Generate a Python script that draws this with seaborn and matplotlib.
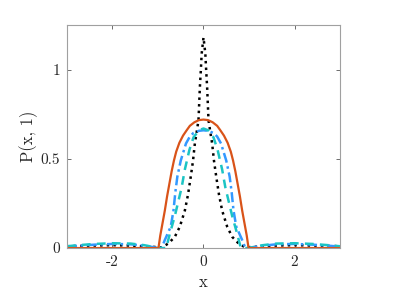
import seaborn as sns
import matplotlib.pyplot as plt
import pandas as pd
import numpy as np

# values, P(x, 1) for four cases
x_orange = [-3.0, -2.0, -1.2, -0.99, -0.95, -0.9, -0.85, -0.8, -0.75, -0.7, -0.65, -0.6, -0.53, -0.45, -0.37, -0.3, -0.2, -0.1, 0.0,
            0.1, 0.2, 0.3, 0.37, 0.45, 0.53, 0.6, 0.65, 0.7, 0.75, 0.8, 0.85, 0.9, 0.95, 0.99, 1.2, 2.0, 3.0]
p_orange = [0.0, 0.0, 0.0, 0.0, 0.07, 0.14, 0.21, 0.29, 0.36, 0.43, 0.49, 0.54, 0.59, 0.63, 0.66, 0.685, 0.705, 0.717, 0.72,
            0.717, 0.705, 0.685, 0.66, 0.63, 0.59, 0.54, 0.49, 0.43, 0.36, 0.29, 0.21, 0.14, 0.07, 0.0, 0.0, 0.0, 0.0]

x_blue = [-3.0, -2.8, -2.4, -2.0, -1.6, -1.3, -1.1, -1.0, -0.92, -0.85, -0.72, -0.66, -0.62, -0.575, -0.5, -0.385, -0.3, -0.22, -0.1, 0.0,
          0.1, 0.22, 0.3, 0.385, 0.5, 0.575, 0.62, 0.66, 0.72, 0.85, 0.92, 1.0, 1.1, 1.3, 1.6, 2.0, 2.4, 2.8, 3.0]
p_blue = [0.008, 0.012, 0.019, 0.023, 0.021, 0.013, 0.005, 0.0, 0.0, 0.045, 0.12, 0.21, 0.31, 0.40, 0.49, 0.586, 0.625, 0.645, 0.657, 0.66,
          0.657, 0.645, 0.625, 0.586, 0.49, 0.40, 0.31, 0.21, 0.12, 0.045, 0.0, 0.0, 0.005, 0.013, 0.021, 0.023, 0.019, 0.012, 0.008]

x_cyan = [-3.0, -2.8, -2.4, -2.0, -1.6, -1.3, -1.1, -1.0, -0.82, -0.74, -0.63, -0.48, -0.41, -0.31, -0.22, -0.1, 0.0,
          0.1, 0.22, 0.31, 0.41, 0.48, 0.63, 0.74, 0.82, 1.0, 1.1, 1.3, 1.6, 2.0, 2.4, 2.8, 3.0]
p_cyan = [0.01, 0.015, 0.023, 0.027, 0.025, 0.016, 0.006, 0.0, 0.0, 0.08, 0.18, 0.34, 0.44, 0.55, 0.62, 0.66, 0.67,
          0.66, 0.62, 0.55, 0.44, 0.34, 0.18, 0.08, 0.0, 0.0, 0.006, 0.016, 0.025, 0.027, 0.023, 0.015, 0.01]

x_black = [-3.0, -2.4, -2.0, -1.6, -1.2, -1.0, -0.92, -0.77, -0.63, -0.52, -0.41, -0.34, -0.28, -0.23, -0.19, -0.15, -0.11, -0.08, -0.06, -0.04, 0.0,
           0.04, 0.06, 0.08, 0.11, 0.15, 0.19, 0.23, 0.28, 0.34, 0.41, 0.52, 0.63, 0.77, 0.92, 1.0, 1.2, 1.6, 2.0, 2.4, 3.0]
p_black = [0.01, 0.014, 0.016, 0.014, 0.008, 0.005, 0.003, 0.026, 0.063, 0.12, 0.21, 0.30, 0.40, 0.49, 0.586, 0.65, 0.717, 0.90, 0.99, 1.09, 1.18,
           1.09, 0.99, 0.90, 0.717, 0.65, 0.586, 0.49, 0.40, 0.30, 0.21, 0.12, 0.063, 0.026, 0.003, 0.005, 0.008, 0.014, 0.016, 0.014, 0.01]

xticks = [-2, 0, 2]
xtick_labels = ['-2', '0', '2']
yticks = [0, 0.5, 1]
ytick_labels = ['0', '0.5', '1']

sns.set_style('ticks')
plt.rcParams['font.family'] = 'serif'
plt.rcParams['font.serif'] = ['cmr10', 'DejaVu Serif']
plt.rcParams['axes.unicode_minus'] = False
plt.rcParams['mathtext.fontset'] = 'cm'
plt.rcParams['axes.formatter.use_mathtext'] = True

fig = plt.figure(figsize=(4.07, 2.96), dpi=100)
ax = fig.add_axes([0.1646, 0.162, 0.6708, 0.7535])

sns.lineplot(x=x_black, y=p_black, ax=ax, color='black', linestyle=':', linewidth=1.8)
sns.lineplot(x=x_blue, y=p_blue, ax=ax, color='#3399FF', linestyle=(0, (4, 1.5, 1, 1.5)), linewidth=1.8)
sns.lineplot(x=x_cyan, y=p_cyan, ax=ax, color='#1BC4C4', linestyle=(0, (3.5, 2.5)), linewidth=1.8)
sns.lineplot(x=x_orange, y=p_orange, ax=ax, color='#D95319', linestyle='-', linewidth=1.6)

ax.set_xlim(-3, 3)
ax.set_ylim(0, 1.25)
ax.set_xticks(xticks)
ax.set_xticklabels(xtick_labels)
ax.set_yticks(yticks)
ax.set_yticklabels(ytick_labels)
ax.tick_params(direction='in', top=True, right=True, length=3, width=0.6, color='#555555', labelsize=11, pad=5)
for s in ax.spines.values():
    s.set_color('#a0a0a0')
    s.set_linewidth(0.8)
ax.set_xlabel('x', fontsize=12, labelpad=4)
ax.set_ylabel('P(x, 1)', fontsize=12, labelpad=2)

plt.savefig('out.png', dpi=100)
